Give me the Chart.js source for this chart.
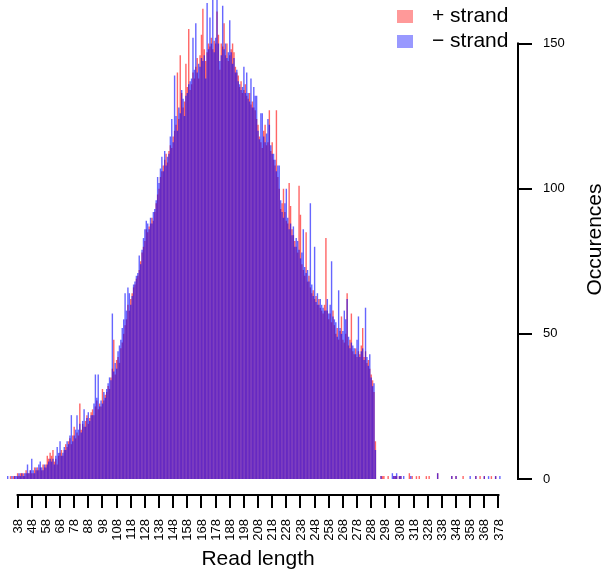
<!DOCTYPE html>
<html>
<head>
<meta charset="utf-8">
<script src="https://cdn.jsdelivr.net/npm/chart.js@4"></script>
<style>
  html, body { margin: 0; padding: 0; background: #fff; }
  #wrap { width: 603px; height: 569px; }
</style>
</head>
<body>
<div id="wrap"><canvas id="readChart" width="603" height="569"></canvas></div>
<script>
// read lengths 31..291, one count per length
const firstLength = 31;

const plusCounts = [
  0, 0, 1, 0, 1, 1, 0, 2, 1, 2,
  2, 2, 1, 3, 2, 2, 3, 2, 2, 4,
  3, 4, 3, 4, 3, 5, 4, 5, 8, 7,
  9, 8, 10, 6, 7, 5, 8, 9, 10, 8,
  10, 12, 11, 13, 14, 12, 15, 18, 14, 16,
  15, 26, 17, 19, 18, 20, 22, 19, 21, 23,
  24, 22, 25, 27, 24, 26, 25, 31, 27, 29,
  30, 32, 31, 35, 38, 48, 36, 41, 42, 40,
  45, 47, 50, 53, 55, 60, 58, 62, 64, 66,
  67, 69, 70, 72, 75, 78, 80, 82, 86, 85,
  87, 88, 90, 89, 92, 95, 98, 100, 104, 106,
  108, 110, 112, 109, 113, 115, 114, 118, 120, 122,
  140, 124, 146, 133, 128, 130, 143, 135, 155, 134,
  136, 140, 138, 142, 145, 138, 146, 153, 162, 148,
  144, 147, 150, 149, 152, 148, 151, 150, 161, 153,
  141, 150, 149, 157, 146, 150, 144, 146, 148, 150,
  147, 142, 140, 139, 135, 137, 133, 134, 136, 132,
  131, 133, 129, 130, 128, 127, 124, 122, 118, 116,
  114, 120, 122, 115, 116, 127, 113, 116, 110, 108,
  127, 104, 100, 93, 95, 100, 92, 89, 88, 102,
  94, 86, 84, 82, 80, 78, 101, 91, 74, 72,
  70, 85, 68, 70, 66, 64, 65, 62, 63, 60,
  62, 59, 58, 57, 60, 83, 58, 55, 57, 54,
  58, 53, 50, 52, 48, 51, 56, 48, 47, 50,
  64, 46, 48, 57, 44, 43, 45, 42, 44, 43,
  46, 52, 42, 44, 40, 41, 38, 36, 34, 30, 13
];

const minusCounts = [
  1, 0, 0, 1, 0, 1, 1, 1, 2, 1,
  2, 1, 2, 2, 5, 2, 3, 7, 3, 2,
  4, 3, 5, 6, 4, 3, 5, 4, 5, 6,
  7, 6, 7, 5, 8, 11, 9, 13, 8, 9,
  11, 10, 13, 12, 15, 22, 13, 15, 17, 22,
  17, 19, 16, 20, 24, 18, 21, 23, 20, 22,
  22, 26, 36, 28, 36, 25, 27, 26, 30, 28,
  31, 33, 35, 34, 57, 37, 40, 38, 44, 46,
  48, 52, 55, 64, 58, 66, 64, 60, 63, 67,
  68, 70, 71, 77, 74, 79, 83, 86, 89, 88,
  86, 90, 88, 92, 93, 96, 104, 102, 107, 111,
  106, 113, 108, 111, 112, 118, 124, 116, 139, 125,
  120, 128, 126, 134, 131, 125, 132, 133, 136, 137,
  138, 152, 141, 157, 140, 143, 142, 145, 144, 146,
  138, 164, 148, 159, 150, 168, 147, 152, 170, 150,
  144, 146, 163, 148, 150, 145, 147, 158, 147, 143,
  145, 140, 141, 137, 136, 134, 135, 142, 133, 140,
  133, 130, 138, 128, 135, 132, 132, 120, 117, 126,
  126, 118, 116, 119, 124, 122, 115, 112, 112, 110,
  106, 108, 108, 96, 92, 90, 95, 100, 90, 86,
  88, 84, 87, 80, 83, 82, 79, 76, 78, 86,
  73, 71, 72, 68, 95, 67, 63, 80, 61, 64,
  60, 62, 60, 59, 58, 58, 62, 57, 60, 75,
  56, 55, 54, 49, 65, 52, 50, 51, 58, 55,
  62, 49, 45, 47, 46, 45, 43, 48, 56, 42,
  44, 45, 41, 59, 42, 39, 43, 35, 32, 33, 10
];

// sparse long reads after the main body
const tailLengths = [295, 296, 297, 300, 303, 304, 305, 306, 308, 309, 311, 315, 316, 317, 320,
                     322, 327, 329, 335, 345, 348, 353, 358, 362, 365, 368, 371, 373, 376, 379];
const tailPlus  = [1, 1, 1, 1, 0, 1, 1, 1, 1, 1, 0, 2, 0, 1, 1, 1, 1, 1, 2, 1, 1, 1, 0, 1, 1, 1, 0, 1, 1, 0];
const tailMinus = [1, 0, 0, 0, 2, 1, 1, 2, 1, 1, 1, 0, 1, 0, 0, 0, 0, 0, 2, 1, 1, 0, 1, 1, 0, 1, 1, 0, 1, 1];

const xTickLabels = [38, 48, 58, 68, 78, 88, 98, 108, 118, 128, 138, 148, 158, 168, 178, 188,
                     198, 208, 218, 228, 238, 248, 258, 268, 278, 288, 298, 308, 318, 328,
                     338, 348, 358, 368, 378];
const yTickLabels = [0, 50, 100, 150];

const seriesNames = ["+ strand", "\u2212 strand"];

function toPoints(main, tail) {
  const pts = main.map((v, i) => ({ x: firstLength + i, y: v }));
  tailLengths.forEach((len, i) => pts.push({ x: len, y: tail[i] }));
  return pts;
}

const FONT = '"Liberation Sans", Arial, sans-serif';

// R style axes: detached lines, ticks only where labelled
const rAxes = {
  id: "rAxes",
  afterDraw(chart) {
    const { ctx, chartArea } = chart;
    const xs = chart.scales.x;
    const ys = chart.scales.y;
    ctx.save();
    ctx.strokeStyle = "#000";
    ctx.fillStyle = "#000";
    ctx.lineWidth = 2;
    ctx.lineCap = "square";

    // bottom axis
    const axisY = chartArea.bottom + 16;
    const x0 = xs.getPixelForValue(xTickLabels[0]);
    const x1 = xs.getPixelForValue(xTickLabels[xTickLabels.length - 1]);
    ctx.beginPath();
    ctx.moveTo(x0, axisY);
    ctx.lineTo(x1, axisY);
    xTickLabels.forEach(t => {
      const px = Math.round(xs.getPixelForValue(t));
      ctx.moveTo(px, axisY);
      ctx.lineTo(px, axisY + 12);
    });
    ctx.stroke();

    ctx.font = "13px " + FONT;
    ctx.textAlign = "right";
    ctx.textBaseline = "middle";
    xTickLabels.forEach(t => {
      const px = xs.getPixelForValue(t);
      ctx.save();
      ctx.translate(px + 0.5, axisY + 24);
      ctx.rotate(-Math.PI / 2);
      ctx.fillText(String(t), 0, 0);
      ctx.restore();
    });

    // right axis
    const axisX = chartArea.right + 16;
    const yTop = ys.getPixelForValue(yTickLabels[yTickLabels.length - 1]);
    const yBot = ys.getPixelForValue(yTickLabels[0]);
    ctx.beginPath();
    ctx.moveTo(axisX, yTop);
    ctx.lineTo(axisX, yBot);
    yTickLabels.forEach(t => {
      const py = Math.round(ys.getPixelForValue(t));
      ctx.moveTo(axisX, py);
      ctx.lineTo(axisX + 13, py);
    });
    ctx.stroke();

    ctx.textAlign = "left";
    yTickLabels.forEach(t => {
      ctx.fillText(String(t), axisX + 25, ys.getPixelForValue(t));
    });

    // titles
    ctx.font = "21px " + FONT;
    ctx.textAlign = "center";
    ctx.textBaseline = "middle";
    ctx.fillText("Read length", (x0 + x1) / 2, 559);
    ctx.save();
    ctx.translate(595, (chartArea.top + chartArea.bottom) / 2);
    ctx.rotate(-Math.PI / 2);
    ctx.fillText("Occurences", 0, 0);
    ctx.restore();

    // legend
    const swatches = ["rgba(255,0,0,0.4)", "rgba(0,0,255,0.4)"];
    ctx.textAlign = "left";
    seriesNames.forEach((name, i) => {
      const cy = 16.5 + i * 25;
      ctx.fillStyle = swatches[i];
      ctx.fillRect(397, cy - 6.5, 16, 13);
      ctx.fillStyle = "#000";
      ctx.fillText(name, 432, cy);
    });

    ctx.restore();
  }
};

const ctx = document.getElementById("readChart");

new Chart(ctx, {
  type: "bar",
  data: {
    datasets: [
      {
        label: seriesNames[0],
        data: toPoints(plusCounts, tailPlus),
        backgroundColor: "rgba(255,0,0,0.6)",
        borderWidth: 0,
        inflateAmount: 0,
        grouped: false,
        order: 1,
        barPercentage: 1,
        categoryPercentage: 1
      },
      {
        label: seriesNames[1],
        data: toPoints(minusCounts, tailMinus),
        backgroundColor: "rgba(0,0,255,0.6)",
        borderWidth: 0,
        inflateAmount: 0,
        grouped: false,
        order: 0,
        barPercentage: 1,
        categoryPercentage: 1
      }
    ]
  },
  options: {
    responsive: false,
    animation: false,
    layout: {
      padding: { left: 7, right: 101, top: 0, bottom: 90 }
    },
    plugins: {
      legend: { display: false },
      tooltip: { enabled: false }
    },
    scales: {
      x: {
        type: "linear",
        min: 30.5,
        max: 380.5,
        offset: false,
        display: false
      },
      y: {
        min: 0,
        max: 165,
        display: false
      }
    }
  },
  plugins: [rAxes]
});
</script>
</body>
</html>
